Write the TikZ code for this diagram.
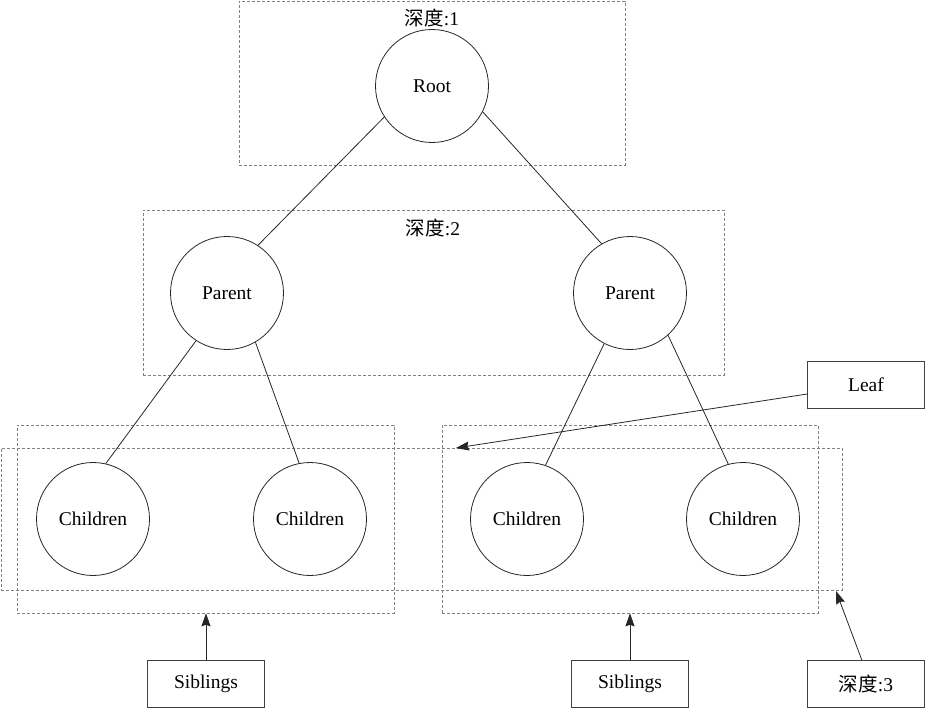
\documentclass[tikz,border=0pt]{standalone}
\usepackage{fontspec}
\setmainfont{Liberation Serif}
\newfontfamily\cjk{Noto Sans CJK SC}
\usetikzlibrary{positioning,arrows.meta}
\begin{document}
\begin{tikzpicture}[x=1pt,y=-1pt,
every node/.style={font=\fontsize{19.5}{23}\selectfont},
treenode/.style={draw=black!85,line width=0.8pt,circle,minimum size=113pt,inner sep=0pt},
tagbox/.style={draw=black!75,line width=1.3pt,minimum width=117pt,minimum height=47pt,inner sep=0pt},
levelbox/.style={draw=gray,dash pattern=on 3pt off 2pt,line width=0.6pt,inner sep=0pt},
edge/.style={draw=black!85,line width=0.8pt},
>={Stealth[length=13pt,width=9pt,inset=1.5pt]}]
\useasboundingbox (0,0) rectangle (926,709);
\node[levelbox,minimum width=386pt,minimum height=164pt] (lv1) at (432,83) {};
\node[levelbox,minimum width=581pt,minimum height=165pt] (lv2) at (433.5,292.5) {};
\node[levelbox,minimum width=841pt,minimum height=142pt] (lv3) at (421.5,519) {};
\node[levelbox,minimum width=377pt,minimum height=188pt] (grpa) at (205.5,519) {};
\node[levelbox,minimum width=376pt,minimum height=188pt] (grpb) at (630,519) {};
\node (d1) at (432,18) {{\cjk 深度}:1};
\node (d2) at (433,228) {{\cjk 深度}:2};
\node[treenode] (root) at (432,86) {Root};
\node[treenode] (pa) at (227,293) {Parent};
\node[treenode] (pb) at (630,293) {Parent};
\node[treenode] (ca) at (93,519) {Children};
\node[treenode] (cb) at (310,519) {Children};
\node[treenode] (cc) at (527,519) {Children};
\node[treenode] (cd) at (743,519) {Children};
\draw[edge] (root.213) -- (pa.57);
\draw[edge] (root.333) -- (pb.120);
\draw[edge] (pa.237) -- (ca.77);
\draw[edge] (pa.300) -- (cb.101);
\draw[edge] (pb.243) -- (cc.71);
\draw[edge] (pb.312) -- (cd.105);
\node[tagbox] (leaf) at (866,385) {Leaf};
\node[tagbox] (sa) at (206,684) {Siblings};
\node[tagbox] (sb) at (630,684) {Siblings};
\node[tagbox] (d3) at (866,684) {{\cjk 深度}:3};
\coordinate (leafend) at (456,448);
\coordinate (d3end) at (836,591);
\draw[edge,->] (leaf) -- (leafend);
\draw[edge,->] (sa) -- (sa |- grpa.south);
\draw[edge,->] (sb) -- (sb |- grpb.south);
\draw[edge,->] (d3.100) -- (d3end);
\end{tikzpicture}
\end{document}
